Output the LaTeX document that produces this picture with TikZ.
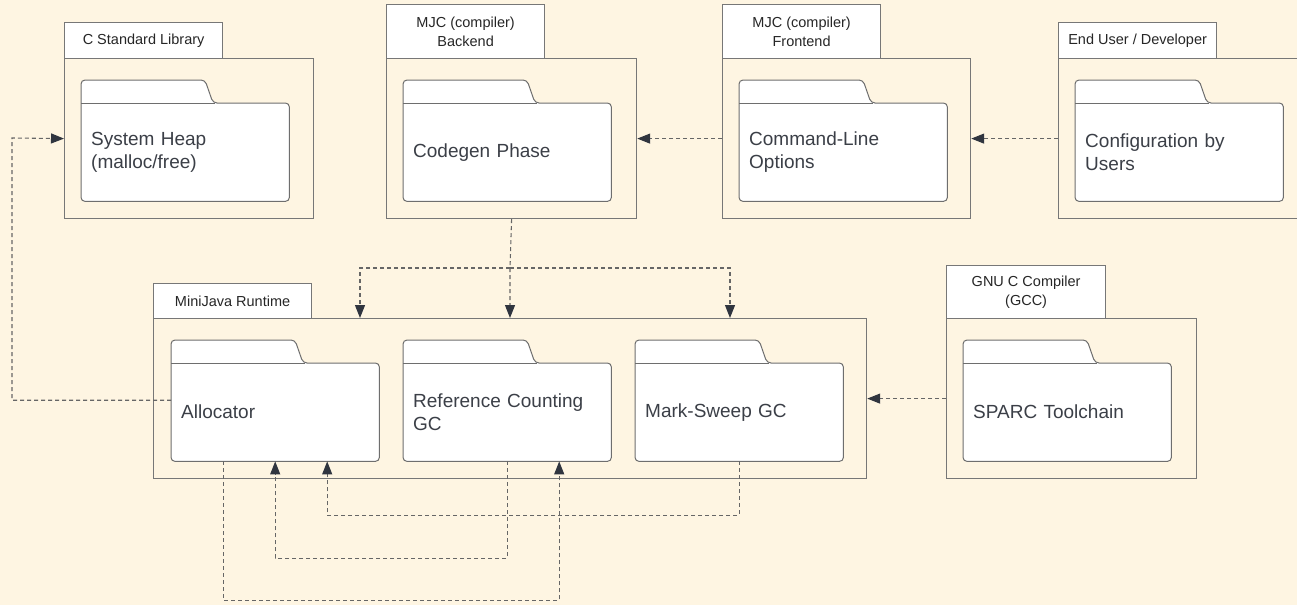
\documentclass[tikz,border=0pt]{standalone}
\usepackage{fontspec}
\setmainfont{Liberation Sans}
\usetikzlibrary{arrows.meta,backgrounds}
\definecolor{bgc}{HTML}{FEF5E2}
\definecolor{edge}{HTML}{777777}
\definecolor{fedge}{HTML}{6E6E6E}
\definecolor{txt}{HTML}{3B3F47}
\definecolor{tip}{HTML}{30353F}
\definecolor{dashc}{HTML}{666666}
\tikzset{
  pkg/.style={draw=edge, line width=1.2pt, anchor=north west, inner sep=0pt},
  pkgtab/.style={draw=edge, fill=white, line width=1.2pt, anchor=north west, inner sep=0pt,
    align=center, font=\fontsize{14.5}{19}\selectfont, text=black!85},
  folder/.style={anchor=north west, minimum width=208pt, minimum height=98pt, text width=188pt,
    inner xsep=10pt, inner ysep=0pt, align=left, font=\fontsize{19}{23}\selectfont, text=txt},
  fshape/.style={draw=fedge, fill=white, line width=1pt, rounded corners=4pt},
  dep/.style={draw=dashc, line width=1.1pt, dash pattern=on 4pt off 3pt},
  deparr/.style={dep, -{Triangle[length=13pt,width=10pt,color=tip]}}
}
\begin{document}
\begin{tikzpicture}[x=1pt,y=-1pt]
\useasboundingbox (0,0) rectangle (1297,605);
% packages
\node[pkg, minimum width=249pt, minimum height=160pt] (cstd) at (64,58) {};
\node[pkgtab, minimum width=158pt, minimum height=36pt] (cstdtab) at (64,22) {C Standard Library};
\node[pkg, minimum width=250pt, minimum height=160pt] (back) at (386,58) {};
\node[pkgtab, minimum width=158pt, minimum height=54pt] (backtab) at (386,4) {MJC (compiler)\\Backend};
\node[pkg, minimum width=248pt, minimum height=160pt] (front) at (722,58) {};
\node[pkgtab, minimum width=158pt, minimum height=54pt] (fronttab) at (722,4) {MJC (compiler)\\Frontend};
\node[pkg, minimum width=252pt, minimum height=160pt] (user) at (1058,58) {};
\node[pkgtab, minimum width=158pt, minimum height=36pt] (usertab) at (1058,22) {End User / Developer};
\node[pkg, minimum width=713pt, minimum height=160pt] (rt) at (153,318) {};
\node[pkgtab, minimum width=158pt, minimum height=35pt] (rttab) at (153,283) {MiniJava Runtime};
\node[pkg, minimum width=250pt, minimum height=160pt] (gcc) at (946,318) {};
\node[pkgtab, minimum width=159pt, minimum height=53pt] (gcctab) at (946,265) {GNU C Compiler\\(GCC)};
% folders
\node[folder] (heap) at (81,103) {System Heap\\(malloc/free)};
\node[folder] (codegen) at (403,103) {Codegen Phase};
\node[folder] (cli) at (739,103) {Command-Line\\Options};
\node[folder] (config) at (1075,103) {Configuration by\\Users};
\node[folder] (alloc) at (171,363) {Allocator};
\node[folder] (refc) at (403,363) {Reference Counting\\GC};
\node[folder] (mark) at (635,363) {Mark-Sweep GC};
\node[folder] (sparc) at (963,363) {SPARC Toolchain};
\begin{pgfonlayer}{background}
  \fill[bgc] (0,0) rectangle (1297,605);
  \foreach \n in {heap,codegen,cli,config,alloc,refc,mark,sparc}{
    \path[fshape] (\n.south west) -- (\n.north west) -- ++(0,-23) -- ++(124,0)
      -- ++(8,23) -- (\n.north east) -- (\n.south east) -- cycle;
    \draw[draw=fedge, line width=1pt] (\n.north west) -- ++(134,0);
  }
\end{pgfonlayer}
% connectors
\draw[deparr] (front.west) -- (back.east);
\draw[deparr] (user.west) -- (front.east);
\draw[deparr] (gcc.west) -- (rt.east);
\coordinate (split) at (510,268);
\coordinate (bl) at (360,268);
\coordinate (br) at (730,268);
\draw[deparr] (back.south) -- (split) -- (split |- rt.north);
\draw[deparr] (split) -- (bl) -- (bl |- rt.north);
\draw[deparr] (split) -- (br) -- (br |- rt.north);
\coordinate (lft) at (12,138);
\draw[deparr] ([yshift=12pt]alloc.west) -| (lft) -- (cstd.west);
\draw[deparr] ([xshift=-52pt]alloc.south) -- ++(0,139) -| ([xshift=52pt]refc.south);
\draw[deparr] (refc.south) -- ++(0,97) -| (alloc.south);
\draw[deparr] (mark.south) -- ++(0,54) -| ([xshift=52pt]alloc.south);
\end{tikzpicture}
\end{document}
